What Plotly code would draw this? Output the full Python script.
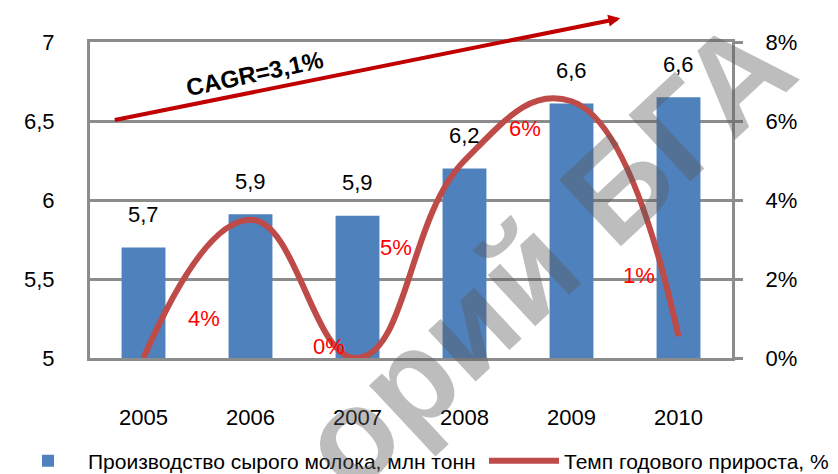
import plotly.graph_objects as go

# -------------------------------------------------
# Data
# -------------------------------------------------
years = ["2005", "2006", "2007", "2008", "2009", "2010"]
milk_output = [5.7, 5.91, 5.9, 6.2, 6.61, 6.65]          # млн тонн
milk_labels = ["5,7", "5,9", "5,9", "6,2", "6,6", "6,6"]
growth_rate = [0.0, 3.5, 0.0, 5.0, 6.5, 0.55]             # %
growth_labels = ["4%", "0%", "5%", "6%", "1%"]
# where the red labels sit (category index, % value)
growth_label_x = [0.57, 1.73, 2.36, 3.57, 4.63]
growth_label_y = [1.0, 0.3, 2.8, 5.8, 2.1]

FONT = "Liberation Sans"
GRID = "#8C8C8C"
BLUE = "#4F81BD"
RED = "#BE4B48"

fig = go.Figure()

fig.add_trace(go.Bar(
    x=years,
    y=milk_output,
    name="Производство сырого молока, млн тонн",
    marker=dict(color=BLUE, line=dict(width=0)),
    legend="legend",
))

fig.add_trace(go.Scatter(
    x=years,
    y=growth_rate,
    name="Темп годового прироста, %",
    mode="lines",
    line=dict(color=RED, width=6, shape="spline", smoothing=1.3),
    yaxis="y2",
    legend="legend2",
))

# bar value labels (x given as category index)
for i, (val, lab) in enumerate(zip(milk_output, milk_labels)):
    fig.add_annotation(
        x=i, y=val, text=lab, showarrow=False,
        yshift=33, font=dict(size=22, color="black", family=FONT),
    )

# growth labels (red)
for gx, gy, lab in zip(growth_label_x, growth_label_y, growth_labels):
    fig.add_annotation(
        x=gx, y=gy, yref="y2", text=lab, showarrow=False,
        font=dict(size=22, color="#FF0000", family=FONT),
    )

# CAGR arrow + text
fig.add_annotation(
    x=0.826, y=1.075, xref="paper", yref="paper",
    ax=-507, ay=102, text="", showarrow=True,
    arrowhead=2, arrowsize=0.6, arrowwidth=4, arrowcolor="#C00000",
)
fig.add_annotation(
    x=0.257, y=0.9, xref="paper", yref="paper",
    xanchor="center", yanchor="middle",
    text="<b>CAGR=3,1%</b>", showarrow=False, textangle=-12,
    font=dict(size=24, color="black", family=FONT),
)

# watermark
fig.add_annotation(
    x=0.709, y=0.329, xref="paper", yref="paper",
    xanchor="center", yanchor="middle",
    text="<b>орий БГА</b>", showarrow=False, textangle=-43,
    font=dict(size=132, color="rgba(90,90,90,0.4)", family=FONT),
)

legend_common = dict(
    orientation="h",
    xref="container", yref="container",
    xanchor="left",
    y=0.0443, yanchor="middle",
    font=dict(size=21, color="black", family=FONT),
    itemwidth=70,
    bgcolor="rgba(0,0,0,0)",
)

# the page adds an 8px body margin, so the plot box is pulled up/left by 8px
fig.update_layout(
    width=838,
    height=474,
    margin=dict(l=82, r=114, t=34, b=124, autoexpand=False),
    paper_bgcolor="white",
    plot_bgcolor="white",
    separators=", ",
    bargap=0.59,
    font=dict(family=FONT, size=22, color="black"),
    showlegend=True,
    legend=dict(x=-0.004, **legend_common),
    legend2=dict(x=0.568, **legend_common),
    xaxis=dict(
        type="category", range=[-0.5, 5.5], autorange=False,
        showline=True, linecolor=GRID, linewidth=3, mirror=True,
        ticks="", ticklabelstandoff=38,
        tickfont=dict(size=22),
    ),
    yaxis=dict(
        range=[5, 7], dtick=0.5,
        showgrid=True, gridcolor=GRID, gridwidth=3,
        showline=True, linecolor=GRID, linewidth=3,
        zeroline=False, ticks="", ticklabelstandoff=28,
        tickfont=dict(size=22),
    ),
    yaxis2=dict(
        range=[0, 8], dtick=2, ticksuffix="%",
        overlaying="y", side="right",
        showgrid=False, zeroline=False,
        showline=True, linecolor=GRID, linewidth=3,
        ticks="outside", ticklen=8, tickwidth=3, tickcolor=GRID,
        ticklabelstandoff=18,
        tickfont=dict(size=22),
    ),
)

fig.write_html("out.html")
